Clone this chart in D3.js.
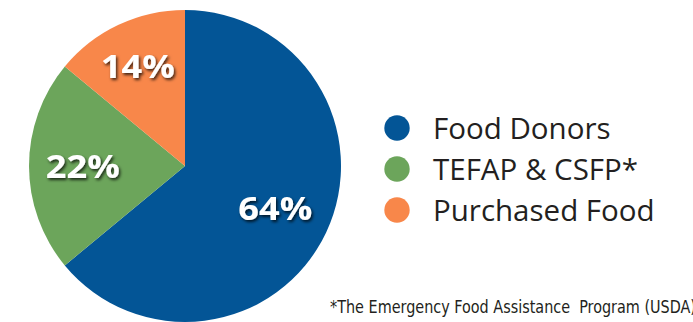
<!DOCTYPE html>
<html><head><meta charset="utf-8">
<script src="https://cdn.jsdelivr.net/npm/d3@7"></script>
<style>body{margin:0;background:#fff;overflow:hidden}svg{display:block}</style>
</head><body>
<svg id="c" width="693" height="322"></svg>
<script>
const categories = ["Food Donors", "TEFAP & CSFP*", "Purchased Food"];
const values = [64, 22, 14];
const labels = ["64%", "22%", "14%"];
const colors = ["#035596", "#6ca55b", "#f8874a"];
const footnote = "*The Emergency Food Assistance  Program (USDA)";

const svg = d3.select("#c");
const defs = svg.append("defs");
const f = defs.append("filter").attr("id","sh").attr("x","-20%").attr("y","-20%").attr("width","150%").attr("height","160%");
f.append("feDropShadow").attr("dx",1.5).attr("dy",2).attr("stdDeviation",1.5).attr("flood-color","#000").attr("flood-opacity",0.75);

const cx = 185, cy = 166, R = 156;
const pie = d3.pie().sort(null).value(d => d);
const arcs = pie(values);
const arc = d3.arc().innerRadius(0).outerRadius(R);
const g = svg.append("g").attr("transform", `translate(${cx},${cy})`);
g.selectAll("path").data(arcs).join("path").attr("d", arc).attr("fill", (d,i) => colors[i]);

const labelR = [0.64, 0.655, 0.71];
g.selectAll("text.lab").data(arcs).join("text").attr("class","lab")
  .attr("transform", (d,i) => {
    const a = (d.startAngle + d.endAngle)/2, r = R*labelR[i];
    return `translate(${Math.sin(a)*r},${-Math.cos(a)*r})`;
  })
  .attr("x", -37).attr("dy","0.36em")
  .attr("textLength", 74).attr("lengthAdjust","spacingAndGlyphs")
  .attr("font-family","'Open Sans', sans-serif").attr("font-weight",700)
  .attr("font-size",33).attr("fill","#fff").attr("filter","url(#sh)")
  .text((d,i) => labels[i]);

const y = d3.scalePoint().domain(categories).range([128, 210]);
const leg = svg.append("g");
leg.selectAll("circle").data(categories).join("circle")
  .attr("cx", 397).attr("cy", d => y(d)).attr("r", 12.7).attr("fill", (d,i) => colors[i]);
leg.selectAll("text").data(categories).join("text")
  .attr("x", 433).attr("y", d => y(d)).attr("dy","0.36em")
  .attr("font-family","'Open Sans', sans-serif").attr("font-size",29.5).attr("fill","#231f20")
  .text(d => d);

svg.append("text").attr("x", 330).attr("y", 313)
  .attr("font-family","'DejaVu Sans Condensed', 'Liberation Sans Narrow', sans-serif")
  .attr("font-size",18).attr("fill","#231f20")
  .attr("textLength", 366).attr("lengthAdjust","spacingAndGlyphs")
  .attr("xml:space","preserve").style("white-space","pre")
  .text(footnote);
</script>
</body></html>
